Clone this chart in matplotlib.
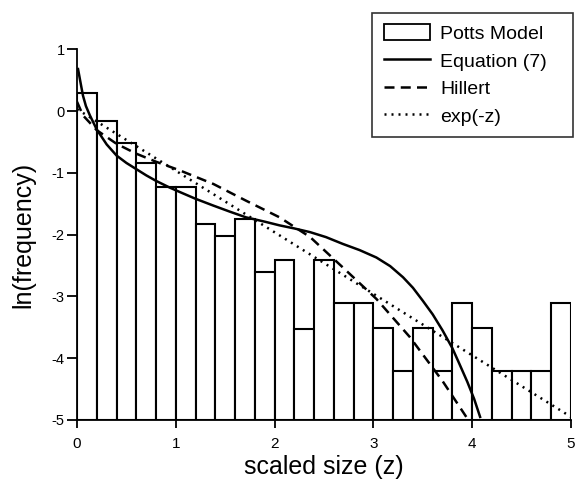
import numpy as np
import matplotlib
matplotlib.use("Agg")
import matplotlib.pyplot as plt
from matplotlib.patches import Patch
from matplotlib.lines import Line2D

plt.rcParams["font.family"] = ["Liberation Sans", "DejaVu Sans"]
plt.rcParams["axes.unicode_minus"] = False

# histogram of the Potts model (ln of frequency), bins of width 0.2 from z = 0
bin_width = 0.2
potts_ln_freq = [0.30, -0.16, -0.52, -0.84, -1.23, -1.23, -1.83, -2.03, -1.74, -2.61,
                 -2.41, -3.52, -2.41, -3.11, -3.11, -3.51, -4.21, -3.51, -4.21, -3.11,
                 -3.51, -4.21, -4.21, -4.21, -3.10]

# Equation (7)
eq7_z = [0.01, 0.04, 0.06, 0.09, 0.13, 0.2, 0.3, 0.4, 0.5, 0.6, 0.7, 0.8, 0.94, 1.04,
         1.2, 1.38, 1.55, 1.71, 1.9, 2.05, 2.2, 2.36, 2.52, 2.69, 2.86, 3.03, 3.17,
         3.3, 3.4, 3.5, 3.6, 3.7, 3.8, 3.87, 3.95, 4.02, 4.08]
eq7_y = [0.68, 0.42, 0.25, 0.08, -0.07, -0.30, -0.54, -0.72, -0.84, -0.94, -1.04, -1.13,
         -1.24, -1.31, -1.42, -1.53, -1.63, -1.72, -1.79, -1.85, -1.90, -1.96, -2.04,
         -2.15, -2.25, -2.37, -2.51, -2.69, -2.86, -3.07, -3.29, -3.55, -3.84, -4.09,
         -4.38, -4.66, -4.95]

# Hillert distribution
hill_z = [0.0, 0.06, 0.2, 0.4, 0.6, 0.8, 1.04, 1.38, 1.71, 2.05, 2.36, 2.69, 3.03,
          3.37, 3.70, 3.94]
hill_y = [0.15, -0.07, -0.31, -0.53, -0.69, -0.82, -0.96, -1.18, -1.45, -1.72, -2.04,
          -2.53, -3.04, -3.66, -4.37, -4.95]

# exp(-z)
expz_z = [0.0, 5.0]
expz_y = [0.03, -4.95]

y_floor = -5

fig = plt.figure(figsize=(5.75, 4.87), dpi=100)
ax = fig.add_axes([0.134, 0.1376, 0.859, 0.7612])

lefts = np.arange(len(potts_ln_freq)) * bin_width
heights = np.array(potts_ln_freq) - y_floor
ax.bar(lefts, heights, width=bin_width, bottom=y_floor, align="edge",
       facecolor="white", edgecolor="black", linewidth=1.5, zorder=1)

ax.plot(eq7_z, eq7_y, color="black", lw=1.8, zorder=3)
ax.plot(hill_z, hill_y, color="black", lw=1.8, ls=(0, (4, 2.5)), zorder=3)
ax.plot(expz_z, expz_y, color="black", lw=1.8, ls=(0, (0.8, 2)), zorder=3)

ax.set_xlim(0, 5)
ax.set_ylim(-5, 1)
ax.set_xticks([0, 1, 2, 3, 4, 5])
ax.set_yticks([-5, -4, -3, -2, -1, 0, 1])
for side in ("top", "right"):
    ax.spines[side].set_visible(False)
for side in ("left", "bottom"):
    ax.spines[side].set_linewidth(1.3)
ax.tick_params(axis="y", direction="out", length=7, width=1.3, labelsize=10.5, pad=2)
ax.tick_params(axis="x", direction="out", length=6, width=1.3, labelsize=11, pad=6)

ax.set_xlabel("scaled size (z)", fontsize=18, labelpad=3)
ax.set_ylabel("ln(frequency)", fontsize=18, labelpad=12)

handles = [
    Patch(facecolor="white", edgecolor="black", linewidth=1.3),
    Line2D([], [], color="black", lw=1.8),
    Line2D([], [], color="black", lw=1.8, ls=(0, (4, 2.5))),
    Line2D([], [], color="black", lw=1.8, ls=(0, (0.8, 2))),
]
labels = ["Potts Model", "Equation (7)", "Hillert", "exp(-z)"]
leg = fig.legend(handles, labels, loc="upper left",
                 bbox_to_anchor=(0.647, 0.714, 0.35, 0.26), mode="expand",
                 fontsize=14, frameon=True, fancybox=False, edgecolor="black",
                 handlelength=2.4, handleheight=0.9, handletextpad=0.5,
                 labelspacing=0.45, borderpad=0.6, borderaxespad=0)
leg.get_frame().set_linewidth(1.2)

fig.savefig("out.png", dpi=100)
